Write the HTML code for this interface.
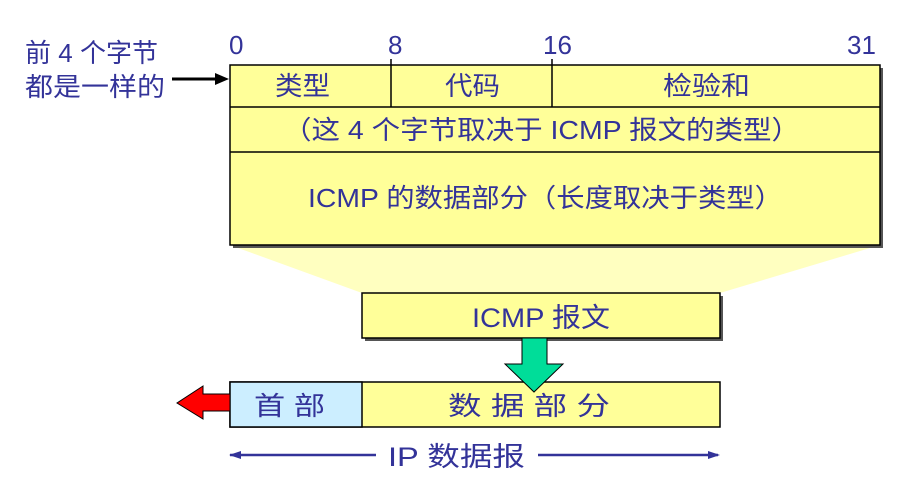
<!DOCTYPE html>
<html><head><meta charset="utf-8"><style>
html,body{margin:0;padding:0;background:#fff;width:910px;height:479px;overflow:hidden}
text{font-family:"Liberation Sans","Noto Sans CJK SC",sans-serif;fill:#333399}
</style></head><body>
<svg width="910" height="479" viewBox="0 0 910 479" xmlns="http://www.w3.org/2000/svg">
<polygon points="230,245 880,245 720,293 362,293" fill="#ffffc0"/>
<rect x="233" y="68" width="650" height="180" fill="#555"/>
<rect x="230" y="65" width="650" height="180" fill="#ffff99" stroke="#000" stroke-width="1.5"/>
<line x1="230" y1="107" x2="880" y2="107" stroke="#000" stroke-width="1.5"/>
<line x1="230" y1="152" x2="880" y2="152" stroke="#000" stroke-width="1.5"/>
<line x1="391" y1="59" x2="391" y2="107" stroke="#000" stroke-width="1.5"/>
<line x1="552" y1="59" x2="552" y2="107" stroke="#000" stroke-width="1.5"/>
<text x="229" y="54" font-size="26">0</text>
<text x="388" y="54" font-size="26">8</text>
<text x="543" y="54" font-size="26">16</text>
<text x="847" y="54" font-size="26">31</text>
<text x="275" y="95" font-size="26" textLength="55" lengthAdjust="spacingAndGlyphs">类型</text>
<text x="445" y="95" font-size="26" textLength="55" lengthAdjust="spacingAndGlyphs">代码</text>
<text x="663" y="95" font-size="26" textLength="87" lengthAdjust="spacingAndGlyphs">检验和</text>
<text x="283" y="139" font-size="26" textLength="517" lengthAdjust="spacingAndGlyphs">（这 4 个字节取决于 ICMP 报文的类型）</text>
<text x="308" y="207" font-size="26" textLength="475" lengthAdjust="spacingAndGlyphs">ICMP 的数据部分（长度取决于类型）</text>
<text x="25" y="62" font-size="26" textLength="133" lengthAdjust="spacingAndGlyphs">前 4 个字节</text>
<text x="25" y="96" font-size="26" textLength="140" lengthAdjust="spacingAndGlyphs">都是一样的</text>
<line x1="172" y1="79" x2="218" y2="79" stroke="#000" stroke-width="3"/>
<polygon points="215,73 229,79 215,85" fill="#000"/>
<rect x="365" y="296" width="358" height="45" fill="#555"/>
<rect x="362" y="293" width="358" height="45" fill="#ffff99" stroke="#000" stroke-width="1.5"/>
<text x="472" y="327" font-size="27" textLength="138" lengthAdjust="spacingAndGlyphs">ICMP 报文</text>
<rect x="230" y="382" width="490" height="45" fill="#ffff99" stroke="#000" stroke-width="1.5"/>
<rect x="230" y="382" width="132" height="45" fill="#cceeff" stroke="#000" stroke-width="1.5"/>
<text x="254" y="415" font-size="26" textLength="71" lengthAdjust="spacingAndGlyphs">首 部</text>
<text x="448" y="415" font-size="26" textLength="162" lengthAdjust="spacingAndGlyphs">数 据 部 分</text>
<polygon points="522,338 547,338 547,364 563,364 534,392 505,364 522,364" fill="#00dd99" stroke="#000" stroke-width="1"/>
<polygon points="230,394 203,394 203,386 177,403 203,419 203,411 230,411" fill="#ff0000" stroke="#000" stroke-width="1"/>
<line x1="230" y1="455" x2="376" y2="455" stroke="#333399" stroke-width="2.5"/>
<polygon points="229,455 241,451 241,459" fill="#333399"/>
<line x1="538" y1="455" x2="718" y2="455" stroke="#333399" stroke-width="2.5"/>
<polygon points="720,455 708,451 708,459" fill="#333399"/>
<text x="388" y="466" font-size="27" textLength="137" lengthAdjust="spacingAndGlyphs">IP 数据报</text>
</svg>
</body></html>
